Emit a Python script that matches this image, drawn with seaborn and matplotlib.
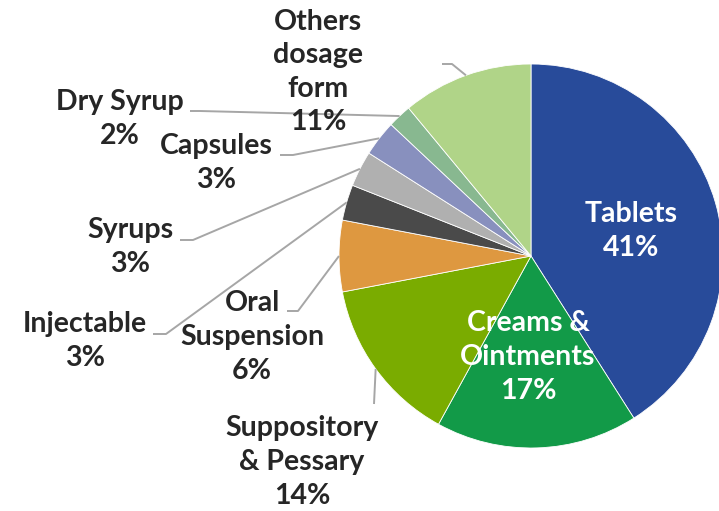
import numpy as np
import seaborn as sns
from matplotlib import pyplot as plt

# dosage form share, clockwise from 12 o'clock
forms = [
    "Tablets",
    "Creams &\nOintments",
    "Suppository\n& Pessary",
    "Oral\nSuspension",
    "Injectable",
    "Syrups",
    "Capsules",
    "Dry Syrup",
    "Others\ndosage\nform",
]
shares = [41, 17, 14, 6, 3, 3, 3, 2, 11]
colors = [
    "#284b9a", "#129a48", "#7aac00", "#de9840", "#4a4a4a",
    "#b0b0b0", "#8890be", "#88b890", "#b0d488",
]

# layout (pixel coords, y measured from the top)
W, H = 719, 511
center = (531, 256)
radius = 192
label_pos = [
    (631, 231), (528, 357), (302, 462), (252, 337), (85, 341),
    (130, 247), (216, 163), (120, 119), (318, 72),
]
inside = [True, True, False, False, False, False, False, False, False]
leader_start = [
    None, None,
    [(374, 404)],
    [(287, 311), (298, 311)],
    [(153, 334), (166, 334)],
    [(180, 240), (193, 240)],
    [(280, 155), (293, 155)],
    [(190, 111), (200, 111)],
    [(442, 64), (452, 64)],
]


def fy(y):
    return H - y


def main():
    sns.set_theme(style="white")
    plt.rcParams["font.family"] = ["Lato", "DejaVu Sans"]

    fig = plt.figure(figsize=(W / 100, H / 100), dpi=100)
    ax = fig.add_axes([0, 0, 1, 1])

    wedges, _ = ax.pie(
        shares,
        colors=sns.color_palette(colors),
        startangle=90,
        counterclock=False,
        center=(center[0], fy(center[1])),
        radius=radius,
        frame=True,
        wedgeprops={"linewidth": 0.6, "edgecolor": "white"},
    )
    ax.set_xlim(0, W)
    ax.set_ylim(0, H)
    ax.set_aspect("equal")
    ax.axis("off")

    for i, (name, v) in enumerate(zip(forms, shares)):
        w = wedges[i]
        mid = np.deg2rad((w.theta1 + w.theta2) / 2)
        edge = (center[0] + radius * np.cos(mid), fy(center[1]) + radius * np.sin(mid))
        if leader_start[i] is not None:
            pts = [(x, fy(y)) for x, y in leader_start[i]] + [edge]
            xs, ys = zip(*pts)
            ax.plot(xs, ys, color="#a6a6a6", lw=1.4, solid_capstyle="butt")
        lx, ly = label_pos[i]
        ax.text(
            lx, fy(ly), f"{name}\n{v}%",
            ha="center", va="center", multialignment="center",
            fontsize=20.5, fontweight="bold", linespacing=1.36,
            color="white" if inside[i] else "#262626",
        )

    fig.savefig("out.png", dpi=100)


if __name__ == "__main__":
    main()
